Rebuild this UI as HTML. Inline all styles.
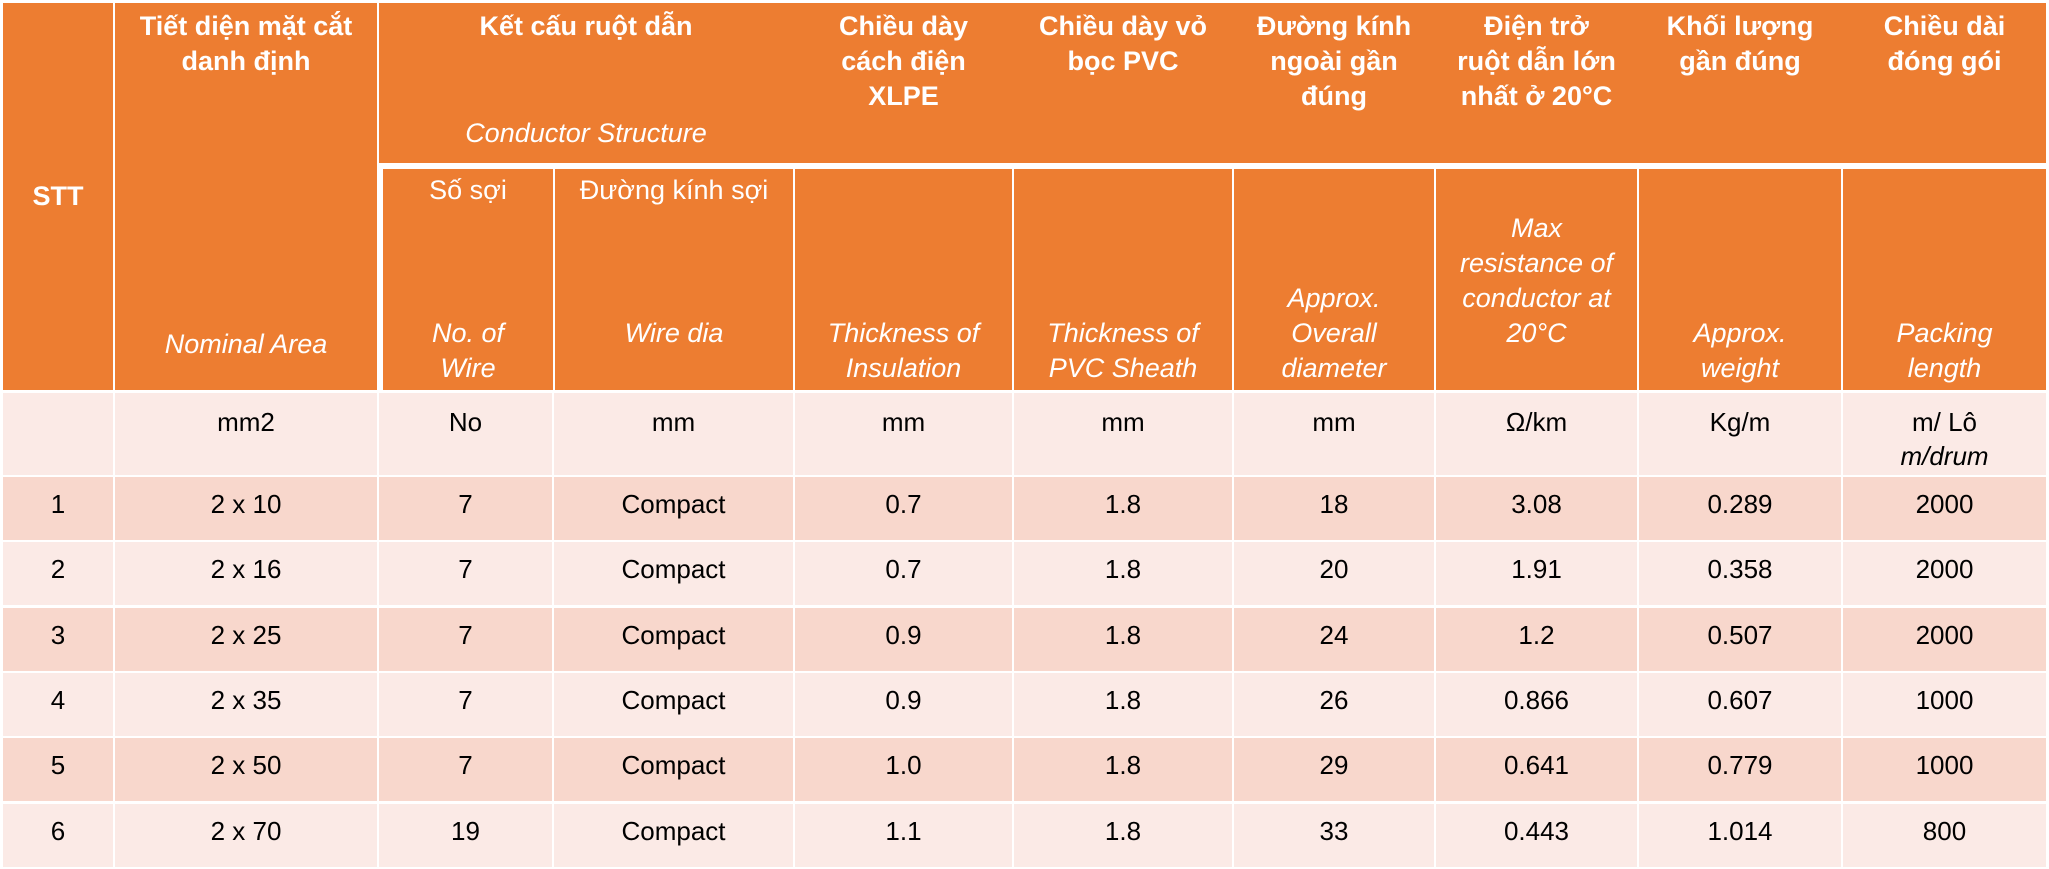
<!DOCTYPE html>
<html><head><meta charset="utf-8">
<style>
html,body{margin:0;padding:0;background:#fff;}
body{width:2049px;height:869px;position:relative;overflow:hidden;font-family:"Liberation Sans",Arial,sans-serif;}
.c{position:absolute;box-sizing:border-box;text-align:center;}
.h{background:#ED7D31;color:#fff;font-weight:bold;font-size:27px;line-height:35px;}
.i{font-style:italic;font-weight:normal;}
.u{background:#FBEAE6;color:#000;font-size:26px;line-height:34px;padding-top:12px;}
.o{background:#F8D7CC;color:#000;font-size:26px;line-height:34px;padding-top:10px;}
.e{background:#FBEAE6;color:#000;font-size:26px;line-height:34px;padding-top:10px;}
.fc{display:flex;flex-direction:column;justify-content:space-between;}
</style></head>
<body>
<div>
<!-- header column spanning -->
<div class="c h" style="left:3px;top:3px;width:110px;height:387px;display:flex;align-items:center;justify-content:center;">STT</div>
<div class="c h fc" style="left:115px;top:3px;width:262px;height:387px;padding:6px 4px 28px;"><div>Tiết diện mặt cắt<br>danh định</div><div class="i">Nominal Area</div></div>
<div class="c h fc" style="left:379px;top:3px;width:1666px;height:160px;"></div>
<div class="c h fc" style="left:379px;top:3px;width:414px;height:160px;padding:6px 4px 12px;"><div>Kết cấu ruột dẫn</div><div class="i">Conductor Structure</div></div>
<div class="c h" style="left:795px;top:3px;width:217px;height:160px;padding-top:6px;">Chiều dày<br>cách điện<br>XLPE</div>
<div class="c h" style="left:1014px;top:3px;width:218px;height:160px;padding-top:6px;">Chiều dày vỏ<br>bọc PVC</div>
<div class="c h" style="left:1234px;top:3px;width:200px;height:160px;padding-top:6px;">Đường kính<br>ngoài gần<br>đúng</div>
<div class="c h" style="left:1436px;top:3px;width:201px;height:160px;padding-top:6px;">Điện trở<br>ruột dẫn lớn<br>nhất ở 20°C</div>
<div class="c h" style="left:1639px;top:3px;width:202px;height:160px;padding-top:6px;">Khối lượng<br>gần đúng</div>
<div class="c h" style="left:1843px;top:3px;width:203px;height:160px;padding-top:6px;">Chiều dài<br>đóng gói</div>
<!-- sub header row -->
<div class="c h fc" style="left:383px;top:169px;width:170px;height:221px;padding:4px 2px 4px;font-weight:normal;"><div>Số sợi</div><div class="i">No. of<br>Wire</div></div>
<div class="c h fc" style="left:555px;top:169px;width:238px;height:221px;padding:4px 2px 39px;font-weight:normal;"><div>Đường kính sợi</div><div class="i">Wire dia</div></div>
<div class="c h fc i" style="left:795px;top:169px;width:217px;height:221px;justify-content:flex-end;padding-bottom:4px;font-weight:normal;"><div>Thickness of<br>Insulation</div></div>
<div class="c h fc i" style="left:1014px;top:169px;width:218px;height:221px;justify-content:flex-end;padding-bottom:4px;font-weight:normal;"><div>Thickness of<br>PVC Sheath</div></div>
<div class="c h fc i" style="left:1234px;top:169px;width:200px;height:221px;justify-content:flex-end;padding-bottom:4px;font-weight:normal;"><div>Approx.<br>Overall<br>diameter</div></div>
<div class="c h fc i" style="left:1436px;top:169px;width:201px;height:221px;justify-content:flex-end;padding-bottom:39px;font-weight:normal;"><div>Max<br>resistance of<br>conductor at<br>20°C</div></div>
<div class="c h fc i" style="left:1639px;top:169px;width:202px;height:221px;justify-content:flex-end;padding-bottom:4px;font-weight:normal;"><div>Approx.<br>weight</div></div>
<div class="c h fc i" style="left:1843px;top:169px;width:203px;height:221px;justify-content:flex-end;padding-bottom:4px;font-weight:normal;"><div>Packing<br>length</div></div>
<!-- units row -->
<div class="c u" style="left:3px;top:393px;width:110px;height:82px;"></div>
<div class="c u" style="left:115px;top:393px;width:262px;height:82px;">mm2</div>
<div class="c u" style="left:379px;top:393px;width:173px;height:82px;">No</div>
<div class="c u" style="left:554px;top:393px;width:239px;height:82px;">mm</div>
<div class="c u" style="left:795px;top:393px;width:217px;height:82px;">mm</div>
<div class="c u" style="left:1014px;top:393px;width:218px;height:82px;">mm</div>
<div class="c u" style="left:1234px;top:393px;width:200px;height:82px;">mm</div>
<div class="c u" style="left:1436px;top:393px;width:201px;height:82px;">Ω/km</div>
<div class="c u" style="left:1639px;top:393px;width:202px;height:82px;">Kg/m</div>
<div class="c u" style="left:1843px;top:393px;width:203px;height:82px;">m/ Lô<br><i>m/drum</i></div>
</div>
<div id="rows"></div>
<script>
const stt=["1","2","3","4","5","6"];
const area=["2 x 10","2 x 16","2 x 25","2 x 35","2 x 50","2 x 70"];
const wires=["7","7","7","7","7","19"];
const wireDia=["Compact","Compact","Compact","Compact","Compact","Compact"];
const insul=["0.7","0.7","0.9","0.9","1.0","1.1"];
const sheath=["1.8","1.8","1.8","1.8","1.8","1.8"];
const diam=["18","20","24","26","29","33"];
const resist=["3.08","1.91","1.2","0.866","0.641","0.443"];
const weight=["0.289","0.358","0.507","0.607","0.779","1.014"];
const packLen=["2000","2000","2000","1000","1000","800"];
const cols=[[3,110],[115,262],[379,173],[554,239],[795,217],[1014,218],[1234,200],[1436,201],[1639,202],[1843,203]];
const names=["stt","area","wire-count","wire-dia","insulation","sheath","diameter","resistance","weight","length"];
const rowsEl=document.getElementById('rows');
for(let r=0;r<stt.length;r++){
  const vals=[stt[r],area[r],wires[r],wireDia[r],insul[r],sheath[r],diam[r],resist[r],weight[r],packLen[r]];
  const top=477+r*65.3;
  for(let c=0;c<cols.length;c++){
    const d=document.createElement('div');
    d.className='c '+(r%2===0?'o':'e');
    d.style.left=cols[c][0]+'px';d.style.width=cols[c][1]+'px';
    d.style.top=top+'px';d.style.height='63px';
    d.textContent=vals[c];
    
    
    rowsEl.appendChild(d);
  }
}
</script>
</body></html>
